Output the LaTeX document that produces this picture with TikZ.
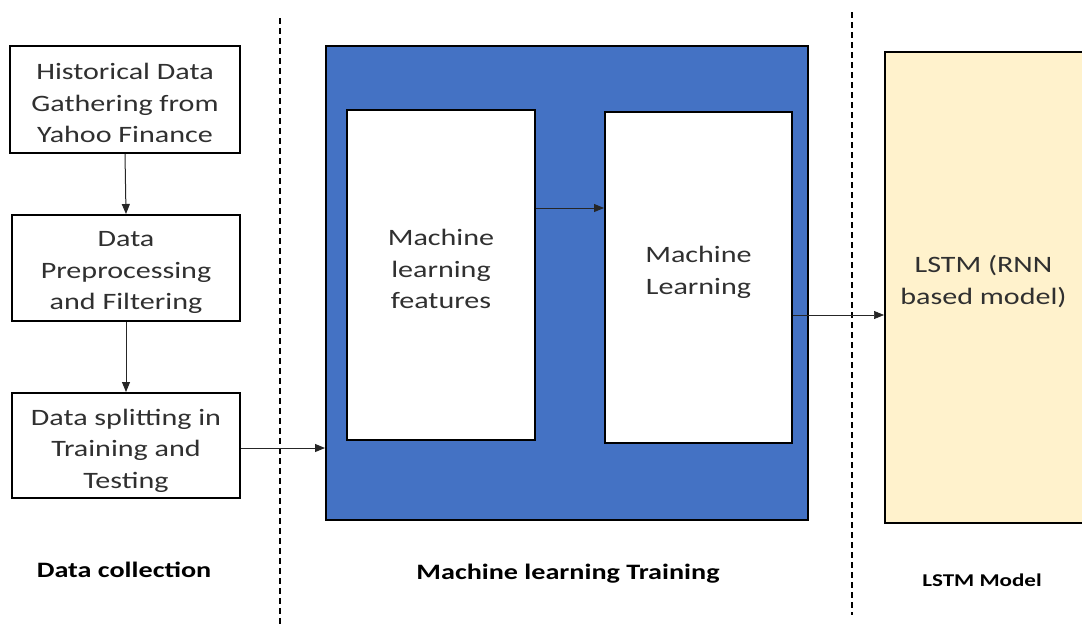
\documentclass[tikz,border=0pt]{standalone}
\usepackage{fontspec}
\setmainfont{Carlito}[FakeStretch=1.28]
\usetikzlibrary{arrows.meta,calc}
\definecolor{blueF}{HTML}{4472C4}
\definecolor{creamF}{HTML}{FFF2CC}
\definecolor{txt}{HTML}{303030}
\begin{document}
\begin{tikzpicture}[x=1pt,y=-1pt,
  box/.style={draw=black,line width=2pt,fill=white,rectangle,inner sep=0pt},
  boxtext/.style={align=center,inner sep=0pt,text=txt,font=\fontsize{23.5}{31.5}\selectfont},
  arr/.style={-{Triangle[length=10pt,width=8pt]},line width=1pt,draw=black!85},
  dashline/.style={line width=2.2pt,dash pattern=on 6pt off 4pt},
  title/.style={font=\bfseries\fontsize{22}{26}\selectfont,text=black}]
\useasboundingbox (0,0) rectangle (1082,624);
\clip (0,0) rectangle (1082,624);
\fill[white] (0,0) rectangle (1082,624);
% left column
\node[box,minimum width=230pt,minimum height=107pt] (b1) at (125,99.5) {};
\node[boxtext] (b1t) at ([yshift=-3.5pt]b1.center) {Historical Data\\Gathering from\\Yahoo Finance};
\node[box,minimum width=228pt,minimum height=106pt] (b2) at (126,268) {};
\node[boxtext] (b2t) at ([yshift=-4.5pt]b2.center) {Data\\Preprocessing\\and Filtering};
\node[box,minimum width=228pt,minimum height=105pt] (b3) at (126,445.5) {};
\node[boxtext] (b3t) at ([yshift=-5pt]b3.center) {Data splitting in\\Training and\\Testing};
% blue container
\node[draw=black,line width=2pt,fill=blueF,minimum width=482pt,minimum height=474pt,inner sep=0pt] (blue) at (567,283) {};
\node[box,minimum width=188pt,minimum height=330pt] (in1) at (441,275) {};
\node[boxtext] (in1t) at ([yshift=6pt]in1.center) {Machine\\learning\\features};
\node[box,minimum width=187pt,minimum height=331pt] (in2) at (698.5,277.5) {};
\node[boxtext] (in2t) at ([yshift=5pt]in2.center) {Machine\\Learning};
% LSTM
\node[box,fill=creamF,minimum width=205pt,minimum height=471pt] (lstm) at (987.5,287.5) {};
\node[boxtext] (lstmt) at ([yshift=6pt,xshift=-4pt]lstm.center) {LSTM (RNN\\based model)};
% dashed separators
\draw[dashline] (280,18) -- (280,624);
\draw[dashline] (852,12) -- (852,615);
% arrows
\draw[arr] (b1.south) -- (b2.north);
\draw[arr] (b2.south) -- (b3.north);
\draw[arr] ([yshift=-2.5pt]b3.east) -- ([yshift=-2.5pt]b3.east -| blue.west);
\draw[arr] ([yshift=67pt]in1.east) -- ([yshift=67pt]in1.east -| in2.west);
\draw[arr,line width=0.7pt] ([yshift=-37.5pt]in2.east) -- ([yshift=-37.5pt]in2.east -| lstm.west);
% titles
\node[title] (t1) at (124,570) {Data collection};
\node[title] (t2) at (568,574) {Machine learning Training};
\node[title,font=\bfseries\fontsize{18}{21}\selectfont] (t3) at (982,580) {LSTM Model};
\end{tikzpicture}
\end{document}
